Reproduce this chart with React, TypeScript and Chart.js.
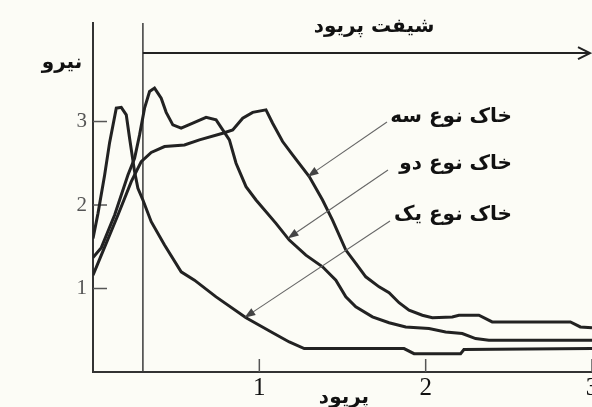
import { useEffect, useRef } from "react";
import { Chart, registerables } from "chart.js";

Chart.register(...registerables);

// Period (s) and normalized force values
const soil1Period = [0, 0.03, 0.07, 0.1, 0.14, 0.17, 0.2, 0.22, 0.25, 0.27, 0.3, 0.35, 0.43, 0.53, 0.61, 0.74, 0.92, 1.08, 1.18, 1.27, 1.87, 1.93, 2.21, 2.23, 3.0];
const soil1Force = [1.6, 1.9, 2.36, 2.75, 3.16, 3.17, 3.08, 2.8, 2.4, 2.2, 2.06, 1.8, 1.52, 1.2, 1.1, 0.9, 0.65, 0.47, 0.36, 0.28, 0.28, 0.22, 0.22, 0.27, 0.28];

const soil2Period = [0, 0.05, 0.13, 0.21, 0.25, 0.28, 0.31, 0.34, 0.37, 0.41, 0.44, 0.48, 0.53, 0.6, 0.68, 0.74, 0.78, 0.82, 0.86, 0.92, 0.98, 1.1, 1.18, 1.28, 1.38, 1.46, 1.52, 1.58, 1.68, 1.78, 1.88, 2.02, 2.12, 2.22, 2.3, 2.38, 3.0];
const soil2Force = [1.37, 1.49, 1.88, 2.36, 2.56, 2.84, 3.16, 3.36, 3.4, 3.28, 3.11, 2.96, 2.92, 2.98, 3.05, 3.02, 2.9, 2.78, 2.5, 2.22, 2.06, 1.78, 1.58, 1.4, 1.26, 1.1, 0.9, 0.78, 0.66, 0.59, 0.54, 0.52, 0.48, 0.46, 0.4, 0.38, 0.38];

const soil3Period = [0, 0.05, 0.15, 0.23, 0.29, 0.35, 0.43, 0.55, 0.64, 0.78, 0.84, 0.9, 0.96, 1.04, 1.08, 1.14, 1.2, 1.3, 1.38, 1.44, 1.52, 1.58, 1.64, 1.72, 1.78, 1.84, 1.9, 1.98, 2.04, 2.16, 2.2, 2.32, 2.4, 2.87, 2.93, 3.0];
const soil3Force = [1.16, 1.4, 1.88, 2.28, 2.52, 2.63, 2.7, 2.72, 2.78, 2.86, 2.9, 3.04, 3.11, 3.14, 2.98, 2.76, 2.6, 2.34, 2.06, 1.82, 1.46, 1.3, 1.14, 1.02, 0.95, 0.83, 0.74, 0.68, 0.65, 0.66, 0.68, 0.68, 0.6, 0.6, 0.54, 0.53];

const xTickValues = [1, 2, 3];
const yTickValues = [1, 2, 3];
const seriesLabels = ["خاک نوع یک", "خاک نوع دو", "خاک نوع سه"];
const shiftPeriod = 0.3;

const persianFont = '"DejaVu Sans", sans-serif';

function zip(xs: number[], ys: number[]) {
  return xs.map((x, i) => ({ x, y: ys[i] }));
}

function drawArrowLine(ctx: CanvasRenderingContext2D, x1: number, y1: number, x2: number, y2: number) {
  const ang = Math.atan2(y2 - y1, x2 - x1);
  const hl = 11, hw = 4;
  ctx.beginPath();
  ctx.moveTo(x1, y1);
  ctx.lineTo(x2 - Math.cos(ang) * hl * 0.8, y2 - Math.sin(ang) * hl * 0.8);
  ctx.stroke();
  ctx.beginPath();
  ctx.moveTo(x2, y2);
  ctx.lineTo(x2 - Math.cos(ang) * hl - Math.sin(ang) * hw, y2 - Math.sin(ang) * hl + Math.cos(ang) * hw);
  ctx.lineTo(x2 - Math.cos(ang) * hl + Math.sin(ang) * hw, y2 - Math.sin(ang) * hl - Math.cos(ang) * hw);
  ctx.closePath();
  ctx.fill();
}

const decor = {
  id: "decor",
  beforeDatasetsDraw(chart: any) {
    const { ctx, chartArea, scales } = chart;
    const x = scales.x, y = scales.y;
    ctx.save();
    const vx = x.getPixelForValue(shiftPeriod);
    ctx.strokeStyle = "#3a3a3a";
    ctx.lineWidth = 1.5;
    ctx.beginPath();
    ctx.moveTo(vx, chartArea.top);
    ctx.lineTo(vx, chartArea.bottom);
    ctx.stroke();
    ctx.strokeStyle = "#555";
    ctx.lineWidth = 1.5;
    yTickValues.forEach((v) => {
      const py = y.getPixelForValue(v);
      ctx.beginPath();
      ctx.moveTo(chartArea.left, py);
      ctx.lineTo(chartArea.left + 14, py);
      ctx.stroke();
    });
    xTickValues.forEach((v) => {
      const px = x.getPixelForValue(v);
      ctx.beginPath();
      ctx.moveTo(px, chartArea.bottom);
      ctx.lineTo(px, chartArea.bottom - 13);
      ctx.stroke();
    });
    ctx.restore();
  },
  afterDatasetsDraw(chart: any) {
    const { ctx, scales } = chart;
    const x = scales.x, y = scales.y;
    ctx.save();
    const ay = y.getPixelForValue(3.82);
    const ax1 = x.getPixelForValue(shiftPeriod);
    const ax2 = chart.width - 2;
    ctx.strokeStyle = "#222";
    ctx.lineWidth = 2;
    ctx.beginPath();
    ctx.moveTo(ax1, ay);
    ctx.lineTo(ax2, ay);
    ctx.stroke();
    ctx.beginPath();
    ctx.moveTo(ax2 - 12, ay - 6);
    ctx.lineTo(ax2, ay);
    ctx.lineTo(ax2 - 12, ay + 6);
    ctx.stroke();

    ctx.fillStyle = "#111";
    ctx.textBaseline = "middle";
    ctx.direction = "rtl";
    ctx.font = `bold 20px ${persianFont}`;
    ctx.textAlign = "center";
    ctx.fillText("شیفت پریود", 374, 27);
    ctx.fillText("نیرو", 62, 63);
    ctx.fillText("پریود", 344, 398);

    const items = [
      { label: seriesLabels[2], ty: 117, from: [387, 122], to: [1.29, 2.34] },
      { label: seriesLabels[1], ty: 164, from: [388, 170], to: [1.17, 1.6] },
      { label: seriesLabels[0], ty: 215, from: [390, 221], to: [0.91, 0.65] },
    ];
    items.forEach((it) => {
      ctx.fillStyle = "#111";
      ctx.direction = "rtl";
      ctx.font = `bold 20px ${persianFont}`;
      ctx.textAlign = "right";
      ctx.fillText(it.label, 512, it.ty);
      ctx.strokeStyle = "#666";
      ctx.fillStyle = "#444";
      ctx.lineWidth = 1.1;
      drawArrowLine(ctx, it.from[0], it.from[1], x.getPixelForValue(it.to[0]), y.getPixelForValue(it.to[1]));
    });
    ctx.restore();
  },
};

export default function App() {
  const ref = useRef<HTMLCanvasElement>(null);
  useEffect(() => {
    const common = { borderColor: "#222", borderWidth: 3, pointRadius: 0, tension: 0, fill: false };
    const chart = new Chart(ref.current!, {
      type: "line",
      data: {
        datasets: [
          { label: seriesLabels[0], data: zip(soil1Period, soil1Force), ...common },
          { label: seriesLabels[1], data: zip(soil2Period, soil2Force), ...common },
          { label: seriesLabels[2], data: zip(soil3Period, soil3Force), ...common },
        ],
      },
      options: {
        animation: false,
        responsive: false,
        layout: { padding: { top: 23, right: -2, bottom: 0, left: 0 } },
        plugins: { legend: { display: false }, tooltip: { enabled: false } },
        scales: {
          x: {
            type: "linear",
            min: 0,
            max: 3,
            afterBuildTicks: (s: any) => {
              s.ticks = xTickValues.map((v) => ({ value: v }));
            },
            afterFit: (s: any) => {
              s.height = 35;
              s.paddingLeft = 0;
              s.paddingRight = 0;
            },
            grid: { display: false, drawTicks: false },
            border: { display: true, color: "#333", width: 2 },
            ticks: {
              autoSkip: false,
              maxRotation: 0,
              padding: 1,
              color: "#111",
              font: { family: '"Liberation Serif", serif', size: 25 },
              callback: (v: any) => String(v),
            },
          },
          y: {
            type: "linear",
            min: 0,
            max: 4.18,
            afterBuildTicks: (s: any) => {
              s.ticks = yTickValues.map((v) => ({ value: v }));
            },
            afterFit: (s: any) => {
              s.width = 93;
              s.paddingTop = 0;
              s.paddingBottom = 0;
            },
            grid: { display: false, drawTicks: false },
            border: { display: true, color: "#333", width: 2 },
            ticks: {
              padding: 6,
              color: "#555",
              font: { family: '"Liberation Serif", serif', size: 21 },
              callback: (v: any) => String(v),
            },
          },
        },
      },
      plugins: [decor],
    } as any);
    return () => chart.destroy();
  }, []);
  return (
    <div style={{ position: "fixed", left: 0, top: 0, width: 592, height: 407, background: "#fcfcf6", overflow: "hidden" }}>
      <canvas ref={ref} width={592} height={407} style={{ display: "block", width: 592, height: 407 }} />
    </div>
  );
}
